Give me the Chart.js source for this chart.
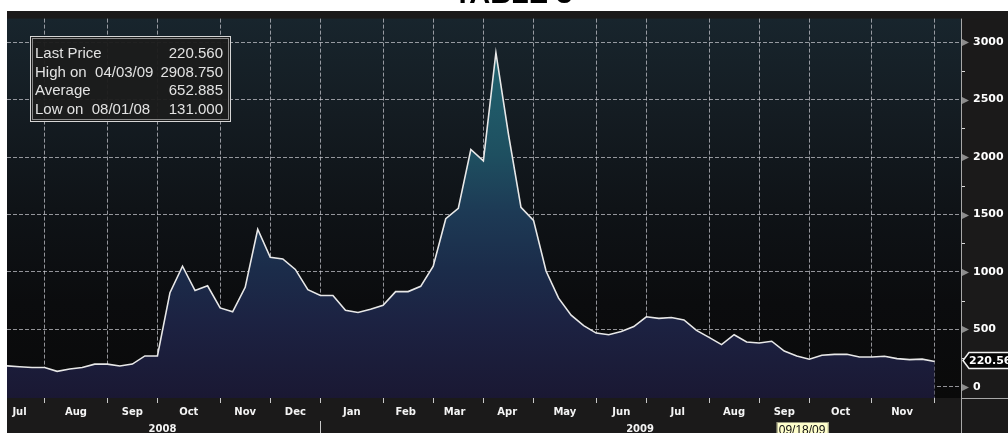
<!DOCTYPE html>
<html>
<head>
<meta charset="utf-8">
<script src="https://cdn.jsdelivr.net/npm/chart.js@4.4.1/dist/chart.umd.min.js"></script>
<style>
html, body { margin: 0; padding: 0; background: #fff; }
#wrap { width: 1008px; height: 433px; }
</style>
</head>
<body>
<div id="wrap"><canvas id="chart" width="1008" height="433"></canvas></div>
<script>
// weekly closes, first point sits 3 weeks before the Aug 2008 tick
var firstWeek = -3;
var prices = [
    183, 175, 169, 169, 135, 155, 169, 198, 198, 181,
    198, 269, 269, 820, 1050, 838, 880, 687, 653, 866,
    1372, 1128, 1113, 1022, 846, 795, 795, 667, 647, 676,
    710, 829, 829, 875, 1051, 1463, 1554, 2066, 1967, 2908.75,
    2200, 1563, 1449, 1008, 772, 624, 533, 468, 454, 482,
    525, 610, 596, 604, 582, 492, 431, 368, 454, 391,
    382, 397, 311, 269, 241, 275, 283, 283, 260, 260,
    266, 246, 237, 241, 220.56
];
var monthTicks = [0, 5, 9, 14, 18, 22, 27, 31, 35, 39, 44, 48, 53, 57, 61, 66, 71];
var monthNames = ["Jul", "Aug", "Sep", "Oct", "Nov", "Dec", "Jan", "Feb", "Mar", "Apr", "May", "Jun", "Jul", "Aug", "Sep", "Oct", "Nov"];
var monthPos = [-2, 2.5, 7, 11.5, 16, 20, 24.5, 28.8, 32.7, 36.9, 41.5, 46, 50.5, 55, 59, 63.5, 68.4];
var yearNames = ["2008", "2009"];
var yearPos = [9.4, 47.5];
var yearSplit = 22;
var yTicks = [0, 250, 500, 750, 1000, 1250, 1500, 1750, 2000, 2250, 2500, 2750, 3000];
var statLabels = ["Last Price", "High on  04/03/09", "Average", "Low on  08/01/08"];
var statValues = ["220.560", "2908.750", "652.885", "131.000"];
var lastPriceText = "220.56";
var cursorDate = "09/18/09";
var cursorWeek = 58.4;
var titleText = "TABLE 3";

var gridCol = "rgba(205,205,212,0.7)";
var points = prices.map(function (v, i) {
    return { x: firstWeek + i, y: v };
});

var bgPlugin = {
    id: "bg",
    beforeDraw: function (chart) {
        var ctx = chart.ctx, a = chart.chartArea;
        ctx.save();
        ctx.fillStyle = "#fff";
        ctx.fillRect(0, 0, chart.width, chart.height);
        ctx.fillStyle = "#1b1a1a";
        ctx.fillRect(7, 11, chart.width - 7, chart.height - 11);
        var g = ctx.createLinearGradient(0, a.top, 0, a.bottom);
        g.addColorStop(0, "#18252d");
        g.addColorStop(0.25, "#141c22");
        g.addColorStop(0.5, "#0f1317");
        g.addColorStop(0.75, "#0b0c0e");
        g.addColorStop(1, "#0a0a0a");
        ctx.fillStyle = g;
        ctx.fillRect(a.left, a.top, a.right - a.left, a.bottom - a.top);
        ctx.restore();
    }
};

var decoPlugin = {
    id: "deco",
    afterDraw: function (chart) {
        var ctx = chart.ctx, a = chart.chartArea, y = chart.scales.y, x = chart.scales.x;
        ctx.save();
        // right axis line + bottom rule
        ctx.strokeStyle = "#a8a8a8";
        ctx.lineWidth = 1;
        ctx.beginPath();
        ctx.moveTo(a.right + 0.5, a.top);
        ctx.lineTo(a.right + 0.5, chart.height);
        ctx.moveTo(a.right, a.bottom + 0.5);
        ctx.lineTo(chart.width, a.bottom + 0.5);
        ctx.stroke();
        // tick markers
        yTicks.forEach(function (v) {
            var py = Math.round(y.getPixelForValue(v)) + 0.5;
            if (v % 500 === 0) {
                ctx.fillStyle = "#8c8c8c";
                ctx.beginPath();
                ctx.moveTo(a.right + 1, py - 3.5);
                ctx.lineTo(a.right + 8, py);
                ctx.lineTo(a.right + 1, py + 3.5);
                ctx.closePath();
                ctx.fill();
            } else {
                ctx.strokeStyle = "#d8d8d8";
                ctx.beginPath();
                ctx.moveTo(a.right + 1, py);
                ctx.lineTo(a.right + 4, py);
                ctx.stroke();
            }
        });
        // year separator
        var sx = Math.round(x.getPixelForValue(yearSplit)) + 0.5;
        ctx.strokeStyle = "#c8c8c8";
        ctx.beginPath();
        ctx.moveTo(sx, 421);
        ctx.lineTo(sx, chart.height);
        ctx.stroke();
        // cursor date box
        var cx = x.getPixelForValue(cursorWeek);
        ctx.fillStyle = "#ffffcc";
        ctx.fillRect(cx, 422, 52, 12);
        ctx.strokeStyle = "#9a9a80";
        ctx.strokeRect(cx + 0.5, 422.5, 51, 12);
        ctx.fillStyle = "#111";
        ctx.font = "12px 'Liberation Sans', Arial, sans-serif";
        ctx.textAlign = "left";
        ctx.textBaseline = "alphabetic";
        ctx.fillText(cursorDate, cx + 2, 434);
        // last price tag
        var ty = y.getPixelForValue(prices[prices.length - 1]) - 1;
        ctx.beginPath();
        ctx.moveTo(a.right + 2, ty);
        ctx.lineTo(a.right + 8, ty - 8);
        ctx.lineTo(chart.width + 2, ty - 8);
        ctx.lineTo(chart.width + 2, ty + 8);
        ctx.lineTo(a.right + 8, ty + 8);
        ctx.closePath();
        ctx.fillStyle = "#050505";
        ctx.fill();
        ctx.strokeStyle = "#f2f2f2";
        ctx.lineWidth = 1.5;
        ctx.stroke();
        ctx.fillStyle = "#fff";
        ctx.font = "bold 11px 'DejaVu Sans'";
        ctx.textBaseline = "middle";
        ctx.fillText(lastPriceText, a.right + 8, ty + 1);
        // stats box
        ctx.fillStyle = "rgba(28,28,28,0.96)";
        ctx.fillRect(30, 36, 201, 86);
        ctx.lineWidth = 1;
        ctx.strokeStyle = "#d6d6d6";
        ctx.strokeRect(30.5, 36.5, 200, 85);
        ctx.strokeStyle = "#8a8a8a";
        ctx.strokeRect(32.5, 38.5, 196, 81);
        ctx.font = "15px 'Liberation Sans', Arial, sans-serif";
        ctx.fillStyle = "#e2e2e2";
        ctx.textBaseline = "alphabetic";
        var base = [58, 76.5, 95, 113.5];
        for (var i = 0; i < statLabels.length; i++) {
            ctx.textAlign = "left";
            ctx.fillText(statLabels[i], 35, base[i]);
            ctx.textAlign = "right";
            ctx.fillText(statValues[i], 223, base[i]);
        }
        // title, mostly above the frame
        ctx.fillStyle = "#000";
        ctx.textAlign = "center";
        ctx.font = "bold 29px 'Liberation Sans', Arial, sans-serif";
        ctx.fillText(titleText, 513, 2.5);
        ctx.restore();
    }
};

var ctx = document.getElementById("chart");
new Chart(ctx, {
    type: "line",
    data: {
        datasets: [{
            data: points,
            borderColor: "#e8e8e8",
            borderWidth: 1.6,
            pointRadius: 0,
            tension: 0,
            fill: "start",
            backgroundColor: function (c) {
                var a = c.chart.chartArea;
                if (!a) return "#1c2242";
                var g = c.chart.ctx.createLinearGradient(0, a.top, 0, a.bottom);
                g.addColorStop(0, "#236e78");
                g.addColorStop(0.1, "#22636f");
                g.addColorStop(0.36, "#1e4f60");
                g.addColorStop(0.51, "#1d3a55");
                g.addColorStop(0.66, "#1b2c4a");
                g.addColorStop(0.8, "#1c2242");
                g.addColorStop(1, "#1a1833");
                return g;
            }
        }]
    },
    options: {
        responsive: false,
        animation: false,
        layout: { padding: { top: 11, left: 7, right: 0, bottom: 0 } },
        plugins: { legend: { display: false }, tooltip: { enabled: false } },
        scales: {
            x: {
                type: "linear", position: "bottom", min: -3, max: 73.1, weight: 0, z: 1,
                afterBuildTicks: function (s) { s.ticks = monthTicks.map(function (v) { return { value: v }; }); },
                afterFit: function (s) { s.height = 5; },
                ticks: { display: false },
                grid: { color: gridCol, lineWidth: 1, drawTicks: true, tickLength: 5, tickColor: "#c8c8c8", tickBorderDash: [] },
                border: { display: false, dash: [4, 2] }
            },
            xm: {
                type: "linear", position: "bottom", min: -3, max: 73.1, weight: 1,
                afterBuildTicks: function (s) { s.ticks = monthPos.map(function (v) { return { value: v }; }); },
                afterFit: function (s) { s.height = 20; },
                ticks: {
                    color: "#f4f4f4", padding: 3, autoSkip: false, maxRotation: 0,
                    font: { family: "DejaVu Sans", weight: "bold", size: 10 },
                    callback: function (v, i) { return monthNames[i]; }
                },
                grid: { display: false, drawTicks: false },
                border: { display: false }
            },
            xy: {
                type: "linear", position: "bottom", min: -3, max: 73.1, weight: 2,
                afterBuildTicks: function (s) { s.ticks = yearPos.map(function (v) { return { value: v }; }); },
                afterFit: function (s) { s.height = 10; },
                ticks: {
                    color: "#f4f4f4", padding: 0, autoSkip: false, maxRotation: 0,
                    font: { family: "DejaVu Sans", weight: "bold", size: 10 },
                    callback: function (v, i) { return yearNames[i]; }
                },
                grid: { display: false, drawTicks: false },
                border: { display: false }
            },
            y: {
                type: "linear", position: "right", min: -97, max: 3205, z: 1,
                afterBuildTicks: function (s) { s.ticks = yTicks.map(function (v) { return { value: v }; }); },
                afterFit: function (s) { s.width = 47; },
                ticks: {
                    color: "#ffffff", padding: 12,
                    font: { family: "DejaVu Sans", weight: "bold", size: 11 },
                    callback: function (v) { return v % 500 === 0 ? String(v) : ""; }
                },
                grid: {
                    drawTicks: false, lineWidth: 1,
                    color: function (c) { return c.tick && c.tick.value % 500 === 0 ? gridCol : "rgba(0,0,0,0)"; }
                },
                border: { display: false, dash: [4, 2] }
            }
        }
    },
    plugins: [bgPlugin, decoPlugin]
});
</script>
</body>
</html>
